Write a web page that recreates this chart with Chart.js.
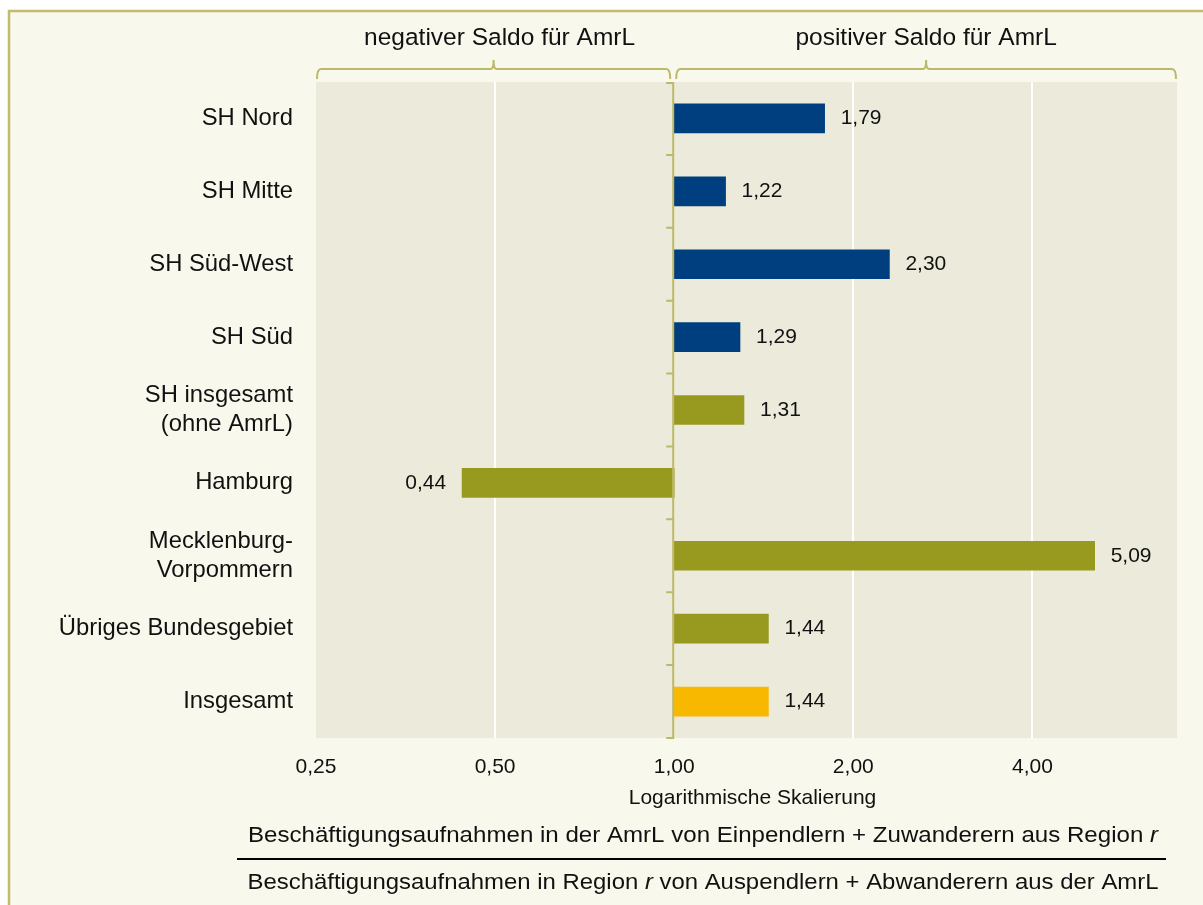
<!DOCTYPE html>
<html>
<head>
<meta charset="utf-8">
<script src="https://cdn.jsdelivr.net/npm/chart.js@4/dist/chart.umd.min.js"></script>
<style>
  html, body { margin: 0; padding: 0; background: #fff; }
  canvas { display: block; }
</style>
</head>
<body>
<canvas id="myChart" width="1203" height="905"></canvas>
<script>
const categories = [
    'SH Nord',
    'SH Mitte',
    'SH Süd-West',
    'SH Süd',
    ['SH insgesamt', '(ohne AmrL)'],
    'Hamburg',
    ['Mecklenburg-', 'Vorpommern'],
    'Übriges Bundesgebiet',
    'Insgesamt',
];

const values = [1.79, 1.22, 2.30, 1.29, 1.31, 0.44, 5.09, 1.44, 1.44];

const barColors = [
    '#003f7f', '#003f7f', '#003f7f', '#003f7f',
    '#989a1f', '#989a1f', '#989a1f', '#989a1f',
    '#f8b800',
];

const tickValues = [0.25, 0.5, 1, 2, 4];
const gridValues = [0.5, 2, 4];

const baseValue = 1;
const bracketLabels = ['negativer Saldo für AmrL', 'positiver Saldo für AmrL'];
const axisTitle = 'Logarithmische Skalierung';

const FONT = '"Liberation Sans", Arial, sans-serif';
const TEXT = '#111';
const OLIVE = '#bdb86a';

const fmt = (v) => v.toFixed(2).replace('.', ',');

// draws text parts (normal / italic) centred at cx, squeezed to a given width
function drawParts(ctx, parts, cx, cy, size, width) {
    ctx.save();
    let total = 0;
    parts.forEach(p => {
        ctx.font = (p.italic ? 'italic ' : '') + size + 'px ' + FONT;
        p.w = ctx.measureText(p.t).width;
        total += p.w;
    });
    const sx = width ? width / total : 1;
    ctx.translate(cx - total * sx / 2, cy);
    ctx.scale(sx, 1);
    ctx.textBaseline = 'middle';
    ctx.textAlign = 'left';
    ctx.fillStyle = TEXT;
    let x = 0;
    parts.forEach(p => {
        ctx.font = (p.italic ? 'italic ' : '') + size + 'px ' + FONT;
        ctx.fillText(p.t, x, 0);
        x += p.w;
    });
    ctx.restore();
}

const decor = {
    id: 'decor',
    beforeDraw(chart) {
        const ctx = chart.ctx;
        const a = chart.chartArea;
        ctx.save();
        ctx.fillStyle = '#ffffff';
        ctx.fillRect(0, 0, chart.width, chart.height);
        ctx.fillStyle = '#f8f8ec';
        ctx.fillRect(8, 10, chart.width, chart.height);
        ctx.strokeStyle = '#c2bc6c';
        ctx.lineWidth = 2.5;
        ctx.beginPath();
        ctx.moveTo(9, chart.height + 5);
        ctx.lineTo(9, 11);
        ctx.lineTo(chart.width + 5, 11);
        ctx.stroke();
        ctx.fillStyle = '#ecebdb';
        ctx.fillRect(a.left, a.top, a.right - a.left, a.bottom - a.top);
        ctx.restore();
    },
    afterDatasetsDraw(chart) {
        const ctx = chart.ctx;
        const a = chart.chartArea;
        const xs = chart.scales.x;
        const ys = chart.scales.y;
        const x1 = xs.getPixelForValue(baseValue);

        ctx.save();
        // value axis at 1,00 with category tick marks
        ctx.strokeStyle = OLIVE;
        ctx.lineWidth = 2;
        ctx.beginPath();
        ctx.moveTo(x1 - 1, a.top);
        ctx.lineTo(x1 - 1, a.bottom);
        for (let i = 0; i <= categories.length; i++) {
            const y = i === categories.length ? a.bottom : ys.getPixelForValue(i - 0.5);
            ctx.moveTo(x1 - 8, y === a.top ? y + 1 : y);
            ctx.lineTo(x1, y === a.top ? y + 1 : y);
        }
        ctx.stroke();

        // value labels
        ctx.font = '21px ' + FONT;
        ctx.fillStyle = TEXT;
        ctx.textBaseline = 'middle';
        values.forEach((v, i) => {
            const px = xs.getPixelForValue(v);
            const py = ys.getPixelForValue(i);
            if (v >= baseValue) {
                ctx.textAlign = 'left';
                ctx.fillText(fmt(v), px + 16, py);
            } else {
                ctx.textAlign = 'right';
                ctx.fillText(fmt(v), px - 16, py);
            }
        });

        // brackets above the plot
        const by = 69;
        const spans = [
            [xs.getPixelForValue(xs.min), x1 - 3],
            [x1 + 1, xs.getPixelForValue(xs.max)],
        ];
        ctx.strokeStyle = OLIVE;
        ctx.lineWidth = 2;
        spans.forEach(([l, r], k) => {
            const c = (l + r) / 2;
            ctx.beginPath();
            ctx.moveTo(l + 1, by + 10);
            ctx.quadraticCurveTo(l + 1, by, l + 5, by);
            ctx.lineTo(c - 3, by);
            ctx.quadraticCurveTo(c, by, c, by - 9);
            ctx.quadraticCurveTo(c, by, c + 3, by);
            ctx.lineTo(r - 5, by);
            ctx.quadraticCurveTo(r - 1, by, r - 1, by + 10);
            ctx.stroke();
            ctx.font = '24.5px ' + FONT;
            ctx.fillStyle = TEXT;
            ctx.textAlign = 'center';
            ctx.textBaseline = 'middle';
            ctx.fillText(bracketLabels[k], c + (k === 0 ? 6 : 0), 38);
        });
        ctx.restore();

        // axis title and fraction below
        const cx = (a.left + a.right) / 2;
        drawParts(ctx, [{ t: axisTitle }], cx + 6, 798, 21);
        drawParts(ctx, [
            { t: 'Beschäftigungsaufnahmen in der AmrL von Einpendlern + Zuwanderern aus Region ' },
            { t: 'r', italic: true },
        ], 703, 836, 22, 910);
        ctx.save();
        ctx.strokeStyle = '#000';
        ctx.lineWidth = 2;
        ctx.beginPath();
        ctx.moveTo(237, 859);
        ctx.lineTo(1166, 859);
        ctx.stroke();
        ctx.restore();
        drawParts(ctx, [
            { t: 'Beschäftigungsaufnahmen in Region ' },
            { t: 'r', italic: true },
            { t: ' von Auspendlern + Abwanderern aus der AmrL' },
        ], 703, 883, 22, 911);
    }
};

const data = {
    labels: categories,
    datasets: [{
        data: values.map(v => [baseValue, v]),
        backgroundColor: barColors,
        borderWidth: 0,
        borderSkipped: false,
        barThickness: 29,
    }]
};

const config = {
    type: 'bar',
    data: data,
    plugins: [decor],
    options: {
        indexAxis: 'y',
        responsive: false,
        animation: false,
        layout: {
            padding: { top: 82, right: 26, left: 0, bottom: 0 }
        },
        plugins: {
            legend: { display: false },
            tooltip: { enabled: false },
        },
        scales: {
            x: {
                type: 'logarithmic',
                min: 0.25,
                max: 7,
                afterBuildTicks: (scale) => {
                    scale.ticks = tickValues.map(v => ({ value: v }));
                },
                afterFit: (scale) => { scale.height = 167; },
                ticks: {
                    autoSkip: false,
                    maxRotation: 0,
                    padding: 17,
                    color: TEXT,
                    font: { family: FONT, size: 21 },
                    callback: (v) => fmt(Number(v)),
                },
                grid: {
                    drawTicks: false,
                    lineWidth: 2,
                    color: (c) => (c.tick && gridValues.includes(c.tick.value)) ? '#ffffff' : 'rgba(0,0,0,0)',
                },
                border: { display: false },
            },
            y: {
                afterFit: (scale) => { scale.width = 316; },
                ticks: {
                    padding: 15,
                    color: TEXT,
                    font: { family: FONT, size: 23.8 },
                },
                grid: { display: false },
                border: { display: false },
            }
        }
    }
};

const myChart = new Chart(document.getElementById('myChart'), config);
</script>
</body>
</html>
